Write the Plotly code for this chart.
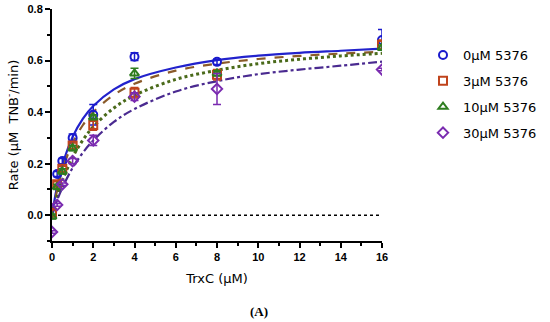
import plotly.graph_objects as go

x_pts = [0, 0.25, 0.5, 1, 2, 4, 8, 16]
labels = ["0\u00b5M 5376", "3\u00b5M 5376", "10\u00b5M 5376", "30\u00b5M 5376"]

y0 = [0.01, 0.16, 0.21, 0.30, 0.39, 0.615, 0.595, 0.68]
e0 = [0.01, 0.01, 0.01, 0.015, 0.04, 0.015, 0.01, 0.04]
y3 = [0.01, 0.12, 0.18, 0.27, 0.35, 0.475, 0.545, 0.66]
e3 = [0.01, 0.01, 0.01, 0.01, 0.02, 0.02, 0.02, 0.02]
y10 = [-0.005, 0.11, 0.17, 0.26, 0.38, 0.55, 0.55, 0.65]
e10 = [0.01, 0.01, 0.01, 0.01, 0.01, 0.02, 0.01, 0.01]
y30 = [-0.065, 0.04, 0.12, 0.21, 0.29, 0.46, 0.49, 0.565]
e30 = [0.005, 0.005, 0.005, 0.01, 0.02, 0.015, 0.06, 0.005]

# fitted curves
fit_x = [0, 0.25, 0.5, 1, 1.5, 2, 3, 4, 6, 8, 10, 12, 14, 16]
fit0 = [0, 0.113, 0.194, 0.304, 0.375, 0.424, 0.488, 0.528, 0.573, 0.602, 0.619, 0.630, 0.638, 0.646]
fit3 = [0, 0.097, 0.175, 0.280, 0.350, 0.400, 0.467, 0.510, 0.561, 0.588, 0.606, 0.618, 0.627, 0.634]
fit10 = [0, 0.074, 0.134, 0.225, 0.292, 0.343, 0.416, 0.465, 0.527, 0.562, 0.588, 0.605, 0.618, 0.628]
fit30 = [0, 0.058, 0.106, 0.184, 0.243, 0.290, 0.362, 0.412, 0.480, 0.520, 0.547, 0.565, 0.580, 0.596]

colors = ["#1a1acc", "#c0441c", "#2e7d1f", "#7a2bb0"]
fit_colors = ["#2222cc", "#8a5a2a", "#4a6a1a", "#4a2a90"]
dashes = ["solid", "dash", "dot", "dashdot"]
symbols = ["circle-open", "square-open", "triangle-up-open", "diamond-open"]
ys = [y0, y3, y10, y30]
es = [e0, e3, e10, e30]
fits = [fit0, fit3, fit10, fit30]

FONT = "Liberation Sans, Arial, sans-serif"
WIDE = "DejaVu Sans, Verdana, sans-serif"

fig = go.Figure()

fig.add_trace(go.Scatter(x=[0, 16], y=[0, 0], mode="lines",
                         line=dict(color="black", width=1.5, dash="dot"),
                         showlegend=False, hoverinfo="skip"))

for i in range(4):
    fig.add_trace(go.Scatter(x=fit_x, y=fits[i], mode="lines", line_shape="spline",
                             line=dict(color=fit_colors[i], width=2.2 if i != 2 else 3, dash=dashes[i]),
                             showlegend=False, hoverinfo="skip"))

for i in range(4):
    fig.add_trace(go.Scatter(x=x_pts, y=ys[i], mode="markers", name=labels[i],
                             legendgroup="g%d" % i,
                             marker=dict(symbol=symbols[i], size=8, color=colors[i],
                                         line=dict(width=2, color=colors[i])),
                             error_y=dict(type="data", array=es[i], color=colors[i],
                                          thickness=1.5, width=4)))

fig.update_layout(
    width=550, height=322,
    margin=dict(l=52, r=168, t=9, b=81, autoexpand=False),
    paper_bgcolor="white", plot_bgcolor="white",
    font=dict(family=FONT, size=11, color="black"),
    showlegend=True,
    legend=dict(x=(423 - 52) / 330, y=(241 - 40) / 232, xanchor="left", yanchor="top",
                font=dict(size=13, family=WIDE), itemwidth=30,
                tracegroupgap=6, traceorder="grouped",
                bgcolor="rgba(0,0,0,0)"),
    xaxis=dict(range=[0, 16], tickvals=list(range(0, 17, 2)), automargin=False,
               showline=True, linecolor="black", linewidth=2,
               ticks="outside", tickwidth=2, ticklen=5, tickcolor="black",
               minor=dict(dtick=1, ticks="outside", ticklen=3, tickwidth=2, tickcolor="black"),
               showgrid=False, zeroline=False,
               tickfont=dict(size=11, family=FONT, weight="bold"),
               title=dict(text="TrxC (\u00b5M)", font=dict(size=13, family=WIDE), standoff=12)),
    yaxis=dict(range=[-0.1, 0.8], tickvals=[0, 0.2, 0.4, 0.6, 0.8], tickformat=".1f", automargin=False,
               showline=True, linecolor="black", linewidth=2,
               ticks="outside", tickwidth=2, ticklen=5, tickcolor="black",
               minor=dict(tickvals=[-0.1, 0.1, 0.3, 0.5, 0.7], ticks="outside", ticklen=3,
                          tickwidth=2, tickcolor="black"),
               showgrid=False, zeroline=False,
               tickfont=dict(size=11, family=FONT, weight="bold"),
               title=dict(text="Rate (\u00b5M  TNB<sup>-</sup>/min)", font=dict(size=13, family=WIDE), standoff=6)),
)

fig.add_annotation(text="<b>(A)</b>", xref="paper", yref="paper",
                   x=(259 - 52) / 330, y=-(312 - 241) / 232,
                   xanchor="center", yanchor="middle", showarrow=False,
                   font=dict(family="Liberation Serif, Times New Roman, serif", size=13))

fig.write_html("out.html", config={"displayModeBar": False},
               post_script="document.body.style.margin='0px';")
